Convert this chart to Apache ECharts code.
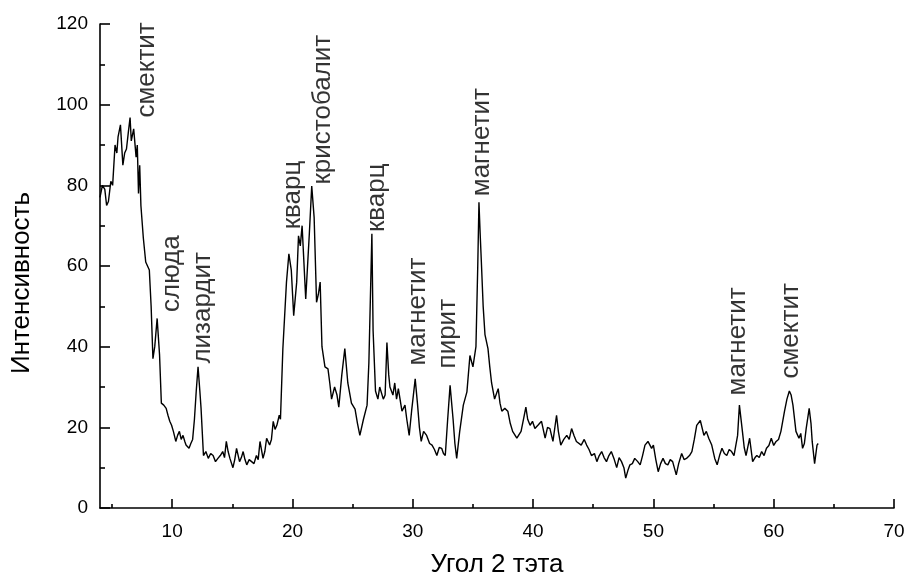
<!DOCTYPE html>
<html lang="ru">
<head>
    <meta charset="UTF-8">
    <title>Дифрактограмма</title>
    <script src="https://cdn.jsdelivr.net/npm/echarts@6.0.0/dist/echarts.min.js"></script>
</head>
<body style="margin:0;background:#fff;">
    <div id="main" style="width: 909px;height:583px;"></div>
    <script type="text/javascript">
        // угол 2θ и интенсивность
        var angle = [
            4.0, 4.2, 4.4, 4.55, 4.7, 4.9, 5.05, 5.25, 5.4, 5.5, 5.7, 5.9, 6.05, 6.2, 6.35, 6.5, 6.6, 6.8, 7.0, 7.1,
            7.2, 7.3, 7.4, 7.6, 7.8, 8.1, 8.25, 8.4, 8.55, 8.75, 8.95, 9.1, 9.3, 9.5, 9.65, 9.8, 9.95, 10.1, 10.3, 10.45,
            10.6, 10.75, 10.9, 11.05, 11.15, 11.4, 11.55, 11.7, 11.85, 12.0, 12.15, 12.3, 12.4, 12.6, 12.8, 13.0, 13.2, 13.4, 13.6, 13.8,
            14.0, 14.2, 14.35, 14.5, 14.65, 14.8, 15.05, 15.2, 15.35, 15.6, 15.75, 15.9, 16.05, 16.2, 16.4, 16.6, 16.8, 17.0, 17.15, 17.3,
            17.55, 17.7, 17.85, 18.1, 18.25, 18.4, 18.55, 18.7, 18.9, 19.0, 19.2, 19.5, 19.7, 19.9, 20.1, 20.35, 20.5, 20.65, 20.8, 21.1,
            21.4, 21.6, 21.8, 22.0, 22.15, 22.3, 22.45, 22.7, 22.95, 23.1, 23.25, 23.5, 23.7, 23.85, 24.1, 24.35, 24.6, 24.9, 25.2, 25.4,
            25.6, 25.9, 26.2, 26.35, 26.6, 26.7, 26.9, 27.1, 27.25, 27.4, 27.55, 27.7, 27.85, 28.0, 28.1, 28.35, 28.5, 28.65, 28.8, 29.1,
            29.35, 29.5, 29.7, 29.9, 30.05, 30.2, 30.4, 30.55, 30.7, 30.9, 31.15, 31.4, 31.6, 31.8, 32.0, 32.2, 32.4, 32.55, 32.7, 32.9,
            33.1, 33.35, 33.5, 33.65, 33.9, 34.2, 34.5, 34.75, 35.0, 35.25, 35.4, 35.5, 35.6, 35.7, 35.85, 36.0, 36.25, 36.4, 36.55, 36.8,
            37.1, 37.25, 37.4, 37.65, 37.9, 38.1, 38.3, 38.65, 39.0, 39.2, 39.4, 39.55, 39.75, 39.95, 40.15, 40.4, 40.7, 41.0, 41.2, 41.4,
            41.65, 41.95, 42.1, 42.3, 42.55, 42.8, 43.0, 43.2, 43.4, 43.6, 44.0, 44.25, 44.45, 44.65, 44.85, 45.1, 45.3, 45.5, 45.7, 45.9,
            46.1, 46.3, 46.5, 46.75, 46.95, 47.15, 47.35, 47.55, 47.7, 47.9, 48.05, 48.25, 48.45, 48.7, 48.9, 49.1, 49.3, 49.55, 49.85, 50.0,
            50.2, 50.4, 50.6, 50.8, 51.0, 51.2, 51.4, 51.6, 51.9, 52.1, 52.35, 52.55, 52.75, 53.0, 53.2, 53.4, 53.6, 53.9, 54.2, 54.4,
            54.6, 54.85, 55.1, 55.3, 55.5, 55.7, 55.9, 56.1, 56.3, 56.5, 56.7, 56.85, 57.0, 57.15, 57.4, 57.55, 57.7, 58.0, 58.25, 58.45,
            58.6, 58.8, 59.0, 59.2, 59.4, 59.6, 59.8, 60.0, 60.2, 60.4, 60.6, 60.9, 61.1, 61.3, 61.45, 61.6, 61.85, 62.1, 62.25, 62.4,
            62.55, 62.7, 62.95, 63.1, 63.2, 63.4, 63.6, 63.7
        ];
        var intensity = [
            77, 80, 79, 75, 76, 81, 80, 90, 88, 92, 95, 85, 88, 89, 93, 96.8, 91, 94, 87, 90,
            78, 85, 75, 67, 61, 59, 50, 37, 40, 47, 38, 26, 25.5, 24.7, 23, 21.5, 20.5, 19, 16.5, 18,
            19, 17, 18, 16.5, 15.6, 14.8, 16, 17, 22, 29, 35, 29, 24.7, 13, 14, 12.3, 13.5, 13, 11.5, 12.3,
            13, 14, 12.5, 16.5, 14, 12.3, 10, 12, 14.8, 11.5, 12.5, 14, 12, 10.7, 12, 11.5, 11, 13, 12, 16.5,
            12.3, 14, 17.3, 15.6, 17, 21.5, 19.5, 20.5, 23, 22, 39.5, 56, 63, 59, 47.7, 56, 67.5, 65, 70, 51.8,
            68, 79.8, 72, 51, 53, 56, 40, 35, 34.5, 31, 27, 30, 28, 25, 33, 39.5, 31, 26, 24.5, 21,
            18, 22, 25.5, 36, 68, 44, 29, 27, 30, 29.6, 27, 28, 41, 33, 30, 28, 31, 27, 29.6, 24,
            25.5, 22, 18, 24, 28, 32, 25.5, 20, 16.5, 19, 18, 16, 15.6, 14.5, 13, 15, 14.8, 13.5, 13, 22,
            30.4, 22, 16, 12.3, 19, 25.5, 28.8, 37.8, 35, 40, 60, 75.8, 68, 61, 50, 43, 39.5, 35, 31, 27,
            29.6, 26, 24, 24.7, 24, 21, 19, 17.3, 19, 22, 25, 22, 20.5, 21.5, 19.7, 20.5, 21.5, 17.3, 20, 19.7,
            16.5, 23, 19, 15.6, 17, 18, 17, 19.7, 18, 16.5, 15.6, 17, 15.6, 14.5, 13, 13.5, 11.5, 13, 14, 12.5,
            11.5, 13, 14, 12, 10, 12.5, 11.5, 10, 7.4, 9.5, 10.7, 11, 12.3, 11.5, 10.7, 13, 15.6, 16.5, 14.8, 15.6,
            12, 9, 11, 12.3, 11, 10.7, 12, 11.5, 8.2, 11, 13.5, 12, 12.3, 13, 14, 17, 20.5, 21.7, 18, 19,
            17.3, 15.6, 12.3, 10.7, 13, 14.8, 13.5, 13, 14.5, 14, 13, 13, 18, 25.5, 19, 15, 13, 17.3, 11.5, 12.5,
            13, 12.5, 14, 13, 14.8, 15.5, 17.3, 15.5, 16.5, 17, 19, 24, 27, 29, 28, 25.5, 19, 17.3, 18.5, 14.8,
            16, 19.7, 24.7, 21, 16.5, 11, 15.6, 16
        ];

        // подписи пиков: название, угол, высота нижнего края подписи
        var peakNames = ['смектит', 'слюда', 'лизардит', 'кварц', 'кристобалит', 'кварц', 'магнетит', 'пирит', 'магнетит', 'магнетит', 'смектит'];
        var peakAngle = [7.9, 10.0, 12.55, 20.05, 22.5, 27.0, 30.4, 32.9, 35.7, 57.0, 61.4];
        var peakLevel = [96.8, 48.6, 35.8, 69.1, 80.2, 68.4, 35.3, 34.6, 77.3, 27.9, 32.1];

        var xLabels = [10, 20, 30, 40, 50, 60, 70];
        var xMinor = [5, 15, 25, 35, 45, 55, 65];

        var font = "'Liberation Sans', Arial, sans-serif";
        var ink = '#000';

        var curve = angle.map(function (a, i) { return [a, intensity[i]]; });
        var peaks = peakNames.map(function (n, i) { return [peakAngle[i], peakLevel[i], n]; });

        var myChart = echarts.init(document.getElementById('main'));
        var option = {
            animation: false,
            backgroundColor: '#fff',
            grid: { left: 100, right: 15, top: 24, bottom: 73 },
            xAxis: [
                {
                    type: 'value', min: 4, max: 70,
                    name: 'Угол 2 тэта', nameLocation: 'middle', nameGap: 44,
                    nameTextStyle: { fontFamily: font, fontSize: 26, color: ink },
                    axisLine: { lineStyle: { color: ink, width: 1.6 } },
                    axisTick: { inside: true, length: 9, customValues: xLabels, lineStyle: { color: ink, width: 1.6 } },
                    axisLabel: { customValues: xLabels, fontFamily: font, fontSize: 19, color: ink, margin: 14 },
                    splitLine: { show: false }
                },
                {
                    type: 'value', min: 4, max: 70, position: 'bottom',
                    axisLine: { show: false },
                    axisTick: { inside: true, length: 4, customValues: xMinor, lineStyle: { color: ink, width: 1.6 } },
                    axisLabel: { show: false },
                    splitLine: { show: false }
                }
            ],
            yAxis: {
                type: 'value', min: 0, max: 120, interval: 20,
                axisLine: { show: true, lineStyle: { color: ink, width: 1.6 } },
                axisTick: { inside: true, length: 10, lineStyle: { color: ink, width: 1.6 } },
                minorTick: { show: true, splitNumber: 2, length: 5, lineStyle: { color: ink, width: 1.6 } },
                axisLabel: { fontFamily: font, fontSize: 19, color: ink, margin: 12 },
                splitLine: { show: false }
            },
            graphic: [{
                type: 'text', x: 22, y: 283, rotation: Math.PI / 2,
                style: { text: 'Интенсивность', font: '26px ' + font, fill: ink, textAlign: 'center', textVerticalAlign: 'middle' }
            }],
            series: [
                {
                    type: 'line', data: curve, showSymbol: false, silent: true,
                    lineStyle: { color: '#000', width: 1.4 }
                },
                {
                    type: 'scatter', data: peaks, symbolSize: 1, silent: true,
                    itemStyle: { color: 'transparent' },
                    label: {
                        show: true, position: 'inside', rotate: 90, align: 'left', verticalAlign: 'middle',
                        fontFamily: font, fontSize: 26, color: ink,
                        formatter: function (p) { return p.data[2]; }
                    }
                }
            ]
        };
        myChart.setOption(option);
    </script>
</body>
</html>
